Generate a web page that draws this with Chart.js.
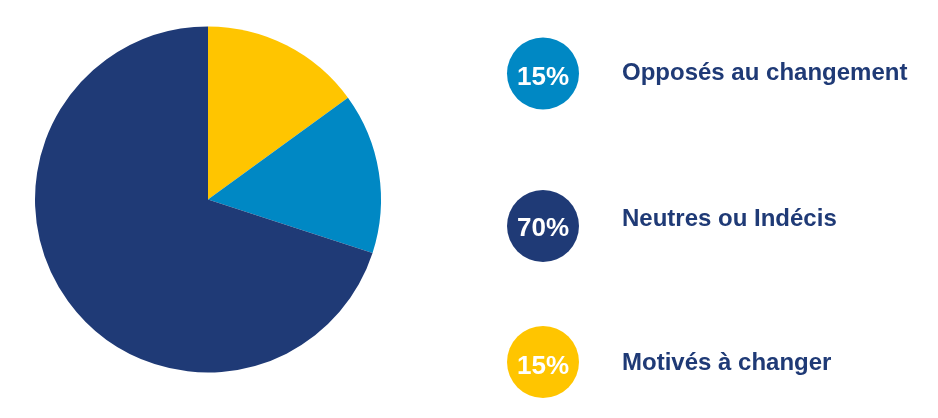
<!DOCTYPE html>
<html>
<head>
<meta charset="utf-8">
<script src="https://cdn.jsdelivr.net/npm/chart.js@4"></script>
<style>
  html, body { margin: 0; padding: 0; background: #fff; }
  #wrap { width: 938px; height: 418px; }
</style>
</head>
<body>
<div id="wrap"><canvas id="grafica" width="938" height="418"></canvas></div>
<script>
// Données du graphique (ordre des secteurs, dans le sens horaire depuis midi)
const categories = ['Motivés à changer', 'Opposés au changement', 'Neutres ou Indécis'];
const valeurs = [15, 15, 70];
const couleurs = ['#FFC500', '#0088C4', '#1F3A76'];

// Ordre de la légende à droite
const ordreLegende = ['Opposés au changement', 'Neutres ou Indécis', 'Motivés à changer'];

const ctx = document.getElementById('grafica').getContext('2d');

// Légende dessinée à la main : pastille avec le pourcentage + libellé
const legendePastilles = {
  id: 'legendePastilles',
  afterDraw(chart) {
    const c = chart.ctx;
    const total = valeurs.reduce((a, b) => a + b, 0);
    const ys = [73.5, 226, 362];
    const basesTexte = [80, 225.5, 370];
    const basesPct = [84.5, 236, 373.5];
    c.save();
    ordreLegende.forEach((nom, i) => {
      const idx = categories.indexOf(nom);
      const pct = Math.round(valeurs[idx] / total * 100) + '%';
      c.beginPath();
      c.arc(543, ys[i], 36, 0, Math.PI * 2);
      c.fillStyle = couleurs[idx];
      c.fill();

      c.fillStyle = '#ffffff';
      c.font = 'bold 26px "Liberation Sans", Arial, sans-serif';
      c.textAlign = 'center';
      c.textBaseline = 'alphabetic';
      c.fillText(pct, 543, basesPct[i]);

      c.fillStyle = '#1F3A76';
      c.font = 'bold 24px "Liberation Sans", Arial, sans-serif';
      c.textAlign = 'left';
      c.fillText(nom, 622, basesTexte[i]);
    });
    c.restore();
  }
};

new Chart(ctx, {
  type: 'pie',
  data: {
    labels: categories,
    datasets: [{
      data: valeurs,
      backgroundColor: couleurs,
      borderWidth: 0,
      hoverOffset: 0
    }]
  },
  options: {
    responsive: false,
    animation: false,
    layout: { padding: { left: 35, right: 557, top: 26, bottom: 45 } },
    plugins: {
      legend: { display: false },
      tooltip: { enabled: false }
    }
  },
  plugins: [legendePastilles]
});
</script>
</body>
</html>
